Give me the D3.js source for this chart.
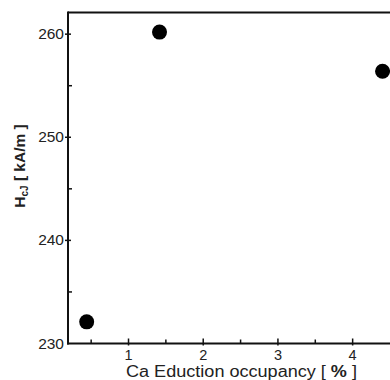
<!DOCTYPE html>
<html>
<head>
<meta charset="utf-8">
<script src="https://cdn.jsdelivr.net/npm/d3@7"></script>
<style>
  body { margin: 0; background: #fff; }
  svg { display: block; }
  text { font-family: "Liberation Sans", Arial, sans-serif; }
</style>
</head>
<body>
<script>
var occupancy = [0.44, 1.415, 4.40];
var hcj = [232.1, 260.2, 256.4];
var xTicks = [1, 2, 3, 4];
var xMinor = [0.5, 1.5, 2.5, 3.5];
var yTicks = [230, 240, 250, 260];
var yMinor = [235, 245, 255];

var width = 390, height = 380;
var svg = d3.select("body").append("svg")
    .attr("width", width)
    .attr("height", height);

var x = d3.scaleLinear().domain([0.19, 4.5]).range([68, 390]);
var y = d3.scaleLinear().domain([230, 262.1]).range([343.5, 12.5]);

var ink = "#111";

// top frame line
svg.append("line")
    .attr("x1", x(0.19)).attr("x2", 390)
    .attr("y1", y(262.1)).attr("y2", y(262.1))
    .attr("stroke", ink).attr("stroke-width", 2);

// x axis
var xAxis = svg.append("g").attr("transform", "translate(0," + y(230) + ")");
xAxis.append("line")
    .attr("x1", x(0.19) - 1).attr("x2", 390)
    .attr("stroke", ink).attr("stroke-width", 2);
xAxis.selectAll(".xt").data(xTicks).enter().append("line")
    .attr("x1", function(d) { return x(d); }).attr("x2", function(d) { return x(d); })
    .attr("y1", -5).attr("y2", 2)
    .attr("stroke", ink).attr("stroke-width", 1.5);
xAxis.selectAll(".xm").data(xMinor).enter().append("line")
    .attr("x1", function(d) { return x(d); }).attr("x2", function(d) { return x(d); })
    .attr("y1", -4).attr("y2", 0)
    .attr("stroke", ink).attr("stroke-width", 1.5);
xAxis.selectAll(".xl").data(xTicks).enter().append("text")
    .attr("x", function(d) { return x(d); })
    .attr("y", 16)
    .attr("text-anchor", "middle")
    .attr("font-size", 14.5)
    .attr("fill", "#222")
    .text(function(d) { return d; });

// y axis
var yAxis = svg.append("g").attr("transform", "translate(" + x(0.19) + ",0)");
yAxis.append("line")
    .attr("y1", y(262.1) - 1).attr("y2", y(230) + 1)
    .attr("stroke", ink).attr("stroke-width", 2);
yAxis.selectAll(".yt").data(yTicks.filter(function(d) { return d > 230; })).enter().append("line")
    .attr("y1", function(d) { return y(d); }).attr("y2", function(d) { return y(d); })
    .attr("x1", -3).attr("x2", 3)
    .attr("stroke", ink).attr("stroke-width", 1.5);
yAxis.selectAll(".ym").data(yMinor).enter().append("line")
    .attr("y1", function(d) { return y(d); }).attr("y2", function(d) { return y(d); })
    .attr("x1", 0).attr("x2", 4)
    .attr("stroke", ink).attr("stroke-width", 1.5);
yAxis.selectAll(".yl").data(yTicks).enter().append("text")
    .attr("x", -4)
    .attr("y", function(d) { return y(d) + 5; })
    .attr("text-anchor", "end")
    .attr("font-size", 15.5)
    .attr("fill", "#222")
    .text(function(d) { return d; });

// axis titles
var xt = svg.append("text")
    .attr("x", 126).attr("y", 377)
    .attr("font-size", 16)
    .attr("fill", "#222")
    .attr("textLength", 231)
    .attr("lengthAdjust", "spacingAndGlyphs");
xt.append("tspan").text("Ca Eduction occupancy [ ");
xt.append("tspan").attr("font-weight", "bold").text("%");
xt.append("tspan").text(" ]");

var yt = svg.append("text")
    .attr("transform", "translate(25,166) rotate(-90)")
    .attr("text-anchor", "middle")
    .attr("font-size", 15.5)
    .attr("font-weight", "bold")
    .attr("fill", "#222");
yt.append("tspan").text("H");
yt.append("tspan").attr("font-size", 10).attr("dy", 3).text("cJ");
yt.append("tspan").attr("dy", -3).text(" [ kA/m ]");

// points
svg.selectAll(".dot")
    .data(occupancy.map(function(d, i) { return { x: d, y: hcj[i] }; }))
    .enter().append("circle")
    .attr("class", "dot")
    .attr("cx", function(d) { return x(d.x); })
    .attr("cy", function(d) { return y(d.y); })
    .attr("r", 7.5)
    .attr("fill", "#000");
</script>
</body>
</html>
